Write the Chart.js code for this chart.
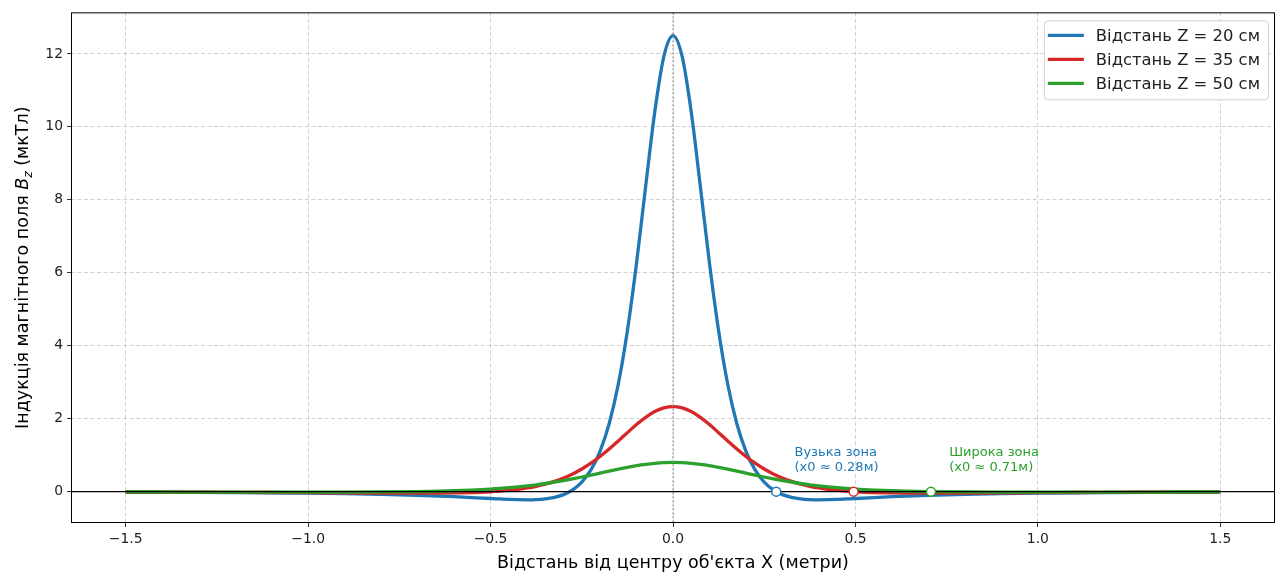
<!DOCTYPE html>
<html>
<head>
<meta charset="utf-8">
<script src="https://cdn.jsdelivr.net/npm/chart.js@4/dist/chart.umd.min.js"></script>
<style>
  html, body { margin: 0; padding: 0; background: #fff; }
  #wrap { width: 1282px; height: 573px; }
</style>
</head>
<body>
<div id="wrap"><canvas id="chart" width="1282" height="573"></canvas></div>
<script>
// x positions (m)
const xs = [
  -1.5, -1.4, -1.3, -1.2, -1.1, -1.0, -0.9, -0.8, -0.7, -0.6,
  -0.5, -0.475, -0.45, -0.425, -0.4, -0.375, -0.35, -0.325, -0.3, -0.275,
  -0.25, -0.225, -0.2, -0.175, -0.15, -0.125, -0.1, -0.075, -0.05, -0.025,
  0,
  0.025, 0.05, 0.075, 0.1, 0.125, 0.15, 0.175, 0.2, 0.225, 0.25,
  0.275, 0.3, 0.325, 0.35, 0.375, 0.4, 0.425, 0.45, 0.475, 0.5,
  0.6, 0.7, 0.8, 0.9, 1.0, 1.1, 1.2, 1.3, 1.4, 1.5
];

// Bz, мкТл
const bz20 = [
  -0.014, -0.017, -0.020, -0.026, -0.032, -0.042, -0.055, -0.073, -0.100, -0.138,
  -0.188, -0.200, -0.212, -0.220, -0.224, -0.219, -0.200, -0.158, -0.082, 0.048,
  0.260, 0.594, 1.105, 1.862, 2.944, 4.411, 6.261, 8.364, 10.406, 11.931,
  12.5,
  11.931, 10.406, 8.364, 6.261, 4.411, 2.944, 1.862, 1.105, 0.594, 0.260,
  0.048, -0.082, -0.158, -0.200, -0.219, -0.224, -0.220, -0.212, -0.200, -0.188,
  -0.138, -0.100, -0.073, -0.055, -0.042, -0.032, -0.026, -0.020, -0.017, -0.014
];
const bz35 = [
  -0.012, -0.014, -0.016, -0.020, -0.024, -0.028, -0.034, -0.039, -0.042, -0.036,
  -0.003, 0.014, 0.035, 0.064, 0.100, 0.147, 0.206, 0.280, 0.372, 0.485,
  0.620, 0.779, 0.963, 1.168, 1.390, 1.617, 1.839, 2.037, 2.195, 2.297,
  2.332,
  2.297, 2.195, 2.037, 1.839, 1.617, 1.390, 1.168, 0.963, 0.779, 0.620,
  0.485, 0.372, 0.280, 0.206, 0.147, 0.100, 0.064, 0.035, 0.014, -0.003,
  -0.036, -0.042, -0.039, -0.034, -0.028, -0.024, -0.020, -0.016, -0.014, -0.012
];
const bz50 = [
  -0.009, -0.010, -0.011, -0.013, -0.014, -0.014, -0.013, -0.009, 0.001, 0.024,
  0.071, 0.088, 0.108, 0.131, 0.158, 0.188, 0.223, 0.261, 0.304, 0.351,
  0.401, 0.453, 0.508, 0.563, 0.616, 0.666, 0.711, 0.748, 0.776, 0.794,
  0.8,
  0.794, 0.776, 0.748, 0.711, 0.666, 0.616, 0.563, 0.508, 0.453, 0.401,
  0.351, 0.304, 0.261, 0.223, 0.188, 0.158, 0.131, 0.108, 0.088, 0.071,
  0.024, 0.001, -0.009, -0.013, -0.014, -0.014, -0.013, -0.011, -0.010, -0.009
];

const seriesLabels = ["Відстань Z = 20 см", "Відстань Z = 35 см", "Відстань Z = 50 см"];
const seriesColors = ["#1f77b4", "#d62728", "#2ca02c"];

// zero crossings x0
const zeroX = [0.283, 0.495, 0.707];
const zeroY = [0, 0, 0];

const xTicks = [-1.5, -1.0, -0.5, 0.0, 0.5, 1.0, 1.5];
const yTicks = [0, 2, 4, 6, 8, 10, 12];

const notes = [
  { x: 0.333, y: 0.5, lines: ["Вузька зона", "(x0 ≈ 0.28м)"], color: "#1f77b4" },
  { x: 0.757, y: 0.5, lines: ["Широка зона", "(x0 ≈ 0.71м)"], color: "#2ca02c" }
];

const FONT = "'DejaVu Sans', sans-serif";
const TITLE_PX = 17.5;

function pts(ys) {
  return xs.map((x, i) => ({ x: x, y: ys[i] }));
}

const curveSets = [bz20, bz35, bz50].map((ys, i) => ({
  label: seriesLabels[i],
  data: pts(ys),
  borderColor: seriesColors[i],
  backgroundColor: seriesColors[i],
  borderWidth: 3.3,
  pointRadius: 0,
  cubicInterpolationMode: "monotone",
  fill: false,
  order: 3 - i
}));

const markerSet = {
  label: "x0",
  type: "scatter",
  data: zeroX.map((x, i) => ({ x: x, y: zeroY[i] })),
  pointRadius: 4.5,
  pointBorderWidth: 1.5,
  pointBackgroundColor: "#fff",
  pointBorderColor: seriesColors,
  showLine: false,
  order: 0
};

// reference lines, frame, titles, legend, notes
const extras = {
  id: "extras",
  beforeDatasetDraw(chart, args) {
    if (args.meta.type !== "scatter") return;
    const { ctx, chartArea: a, scales } = chart;
    const x0 = scales.x.getPixelForValue(0);
    const y0 = scales.y.getPixelForValue(0);
    ctx.save();
    ctx.beginPath();
    ctx.rect(a.left, a.top, a.right - a.left, a.bottom - a.top);
    ctx.clip();
    ctx.strokeStyle = "#999";
    ctx.lineWidth = 1.2;
    ctx.setLineDash([2, 2]);
    ctx.beginPath();
    ctx.moveTo(x0, a.top);
    ctx.lineTo(x0, a.bottom);
    ctx.stroke();
    ctx.setLineDash([]);
    ctx.strokeStyle = "#000";
    ctx.lineWidth = 1.1;
    ctx.beginPath();
    ctx.moveTo(a.left, y0);
    ctx.lineTo(a.right, y0);
    ctx.stroke();
    ctx.restore();
  },
  afterDraw(chart) {
    const { ctx, chartArea: a, scales } = chart;
    ctx.save();

    // frame
    ctx.strokeStyle = "#000";
    ctx.lineWidth = 1;
    ctx.strokeRect(a.left + 0.5, a.top + 0.5, a.right - a.left - 1, a.bottom - a.top - 1);

    // notes
    ctx.font = "13px " + FONT;
    ctx.textAlign = "left";
    ctx.textBaseline = "alphabetic";
    notes.forEach(n => {
      const px = scales.x.getPixelForValue(n.x);
      const py = scales.y.getPixelForValue(n.y);
      ctx.fillStyle = n.color;
      ctx.fillText(n.lines[0], px, py - 17);
      ctx.fillText(n.lines[1], px, py - 2);
    });

    // x title
    ctx.fillStyle = "#000";
    ctx.font = TITLE_PX + "px " + FONT;
    ctx.textAlign = "center";
    ctx.textBaseline = "alphabetic";
    ctx.fillText("Відстань від центру об'єкта X (метри)", (a.left + a.right) / 2, 568);

    // y title with B_z
    const p1 = "Індукція магнітного поля ";
    const p3 = " (мкТл)";
    const sub = TITLE_PX * 0.7;
    ctx.font = TITLE_PX + "px " + FONT;
    const w1 = ctx.measureText(p1).width;
    const w3 = ctx.measureText(p3).width;
    ctx.font = "italic " + TITLE_PX + "px " + FONT;
    const wB = ctx.measureText("B").width;
    ctx.font = "italic " + sub + "px " + FONT;
    const wz = ctx.measureText("z").width;
    const total = w1 + wB + wz + w3;
    ctx.translate(28, (a.top + a.bottom) / 2);
    ctx.rotate(-Math.PI / 2);
    let cx = -total / 2;
    ctx.textAlign = "left";
    ctx.font = TITLE_PX + "px " + FONT;
    ctx.fillText(p1, cx, 0); cx += w1;
    ctx.font = "italic " + TITLE_PX + "px " + FONT;
    ctx.fillText("B", cx, 0); cx += wB;
    ctx.font = "italic " + sub + "px " + FONT;
    ctx.fillText("z", cx, 4); cx += wz;
    ctx.font = TITLE_PX + "px " + FONT;
    ctx.fillText(p3, cx, 0);
    ctx.setTransform(1, 0, 0, 1, 0, 0);

    // legend
    ctx.font = "16.4px " + FONT;
    const tw = Math.max(...curveSets.map(d => ctx.measureText(d.label).width));
    const bw = 52 + tw + 8, bh = 79;
    const bx = a.right - 7 - bw, by = a.top + 8;
    ctx.fillStyle = "rgba(255,255,255,0.85)";
    ctx.strokeStyle = "#d0d0d0";
    ctx.lineWidth = 1;
    ctx.beginPath();
    ctx.roundRect(bx + 0.5, by + 0.5, bw, bh, 4);
    ctx.fill();
    ctx.stroke();
    ctx.textBaseline = "middle";
    curveSets.forEach((ds, i) => {
      const ry = by + 15 + i * 24;
      ctx.strokeStyle = ds.borderColor;
      ctx.lineWidth = 3.3;
      ctx.beginPath();
      ctx.moveTo(bx + 4, ry);
      ctx.lineTo(bx + 40, ry);
      ctx.stroke();
      ctx.fillStyle = "#222";
      ctx.fillText(ds.label, bx + 52, ry + 1);
    });
    ctx.restore();
  }
};

function fmtX(v) {
  return v.toFixed(1).replace("-", "\u2212");
}

const gridOpts = {
  color: "rgba(160,160,160,0.6)",
  tickBorderDash: [],
  tickColor: "#000",
  tickLength: 4,
  lineWidth: 0.8
};

new Chart(document.getElementById("chart"), {
  type: "line",
  data: { datasets: [...curveSets, markerSet] },
  options: {
    responsive: false,
    animation: false,
    layout: { padding: { top: 10, right: 7, left: 0, bottom: 0 } },
    plugins: {
      legend: { display: false },
      tooltip: { enabled: false }
    },
    scales: {
      x: {
        type: "linear",
        min: -1.65,
        max: 1.65,
        afterBuildTicks: s => { s.ticks = xTicks.map(v => ({ value: v })); },
        afterFit: s => { s.height = 50; },
        ticks: {
          callback: v => fmtX(v),
          color: "#222",
          font: { family: FONT, size: 13.9 },
          padding: 4,
          maxRotation: 0
        },
        grid: gridOpts,
        border: { display: false, dash: [4, 2.5] }
      },
      y: {
        type: "linear",
        min: -0.86,
        max: 13.14,
        afterBuildTicks: s => { s.ticks = yTicks.map(v => ({ value: v })); },
        afterFit: s => { s.width = 71; },
        ticks: {
          callback: v => String(v),
          color: "#222",
          font: { family: FONT, size: 13.9 },
          padding: 4
        },
        grid: gridOpts,
        border: { display: false, dash: [4, 2.5] }
      }
    }
  },
  plugins: [extras]
});
</script>
</body>
</html>
